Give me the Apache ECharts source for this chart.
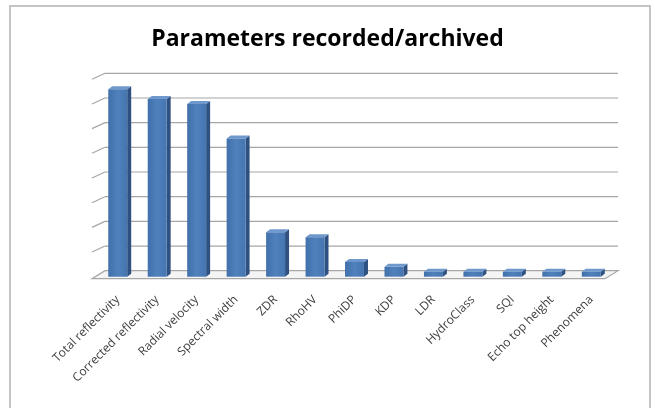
<!DOCTYPE html>
<html>
<head>
<meta charset="utf-8">
<style>
  html, body { margin: 0; padding: 0; background: #ffffff; }
  #chart { width: 655px; height: 408px; }
</style>
<script src="https://cdn.jsdelivr.net/npm/echarts@6/dist/echarts.min.js"></script>
</head>
<body>
<div id="chart"></div>
<script>
// Radar parameters and how often each is recorded/archived
const categories = [
  'Total reflectivity', 'Corrected reflectivity', 'Radial velocity', 'Spectral width',
  'ZDR', 'RhoHV', 'PhiDP', 'KDP', 'LDR', 'HydroClass', 'SQI', 'Echo top height', 'Phenomena'
];
const counts = [38, 36, 35, 28, 9, 8, 3, 2, 1, 1, 1, 1, 1];
const gridTicks = [0, 5, 10, 15, 20, 25, 30, 35, 40];

// pseudo-3D offsets (pixels): back wall relative to bar plane, floor front edge, bar depth
const BACK = [7, -6];
const FRONT = [-6, 2];
const DEPTH = [4, -3];

const chart = echarts.init(document.getElementById('chart'), null, { renderer: 'canvas' });

function wallItem(params, api) {
  const v = api.value(1);
  const band = api.size([1, 0])[0];
  const pL = api.coord([0, v]);
  const pR = api.coord([categories.length - 1, v]);
  const xL = pL[0] - band / 2;
  const xR = pR[0] + band / 2;
  const y = pL[1];
  const lineStyle = { stroke: '#a6a6a6', lineWidth: 1.2 };
  if (v === 0) {
    return {
      type: 'polygon',
      shape: { points: [
        [xL + BACK[0], y + BACK[1]], [xR + BACK[0], y + BACK[1]],
        [xR + FRONT[0], y + FRONT[1]], [xL + FRONT[0], y + FRONT[1]]
      ] },
      style: { fill: '#f4f4f4', stroke: '#a6a6a6', lineWidth: 1.2 },
      z2: 0
    };
  }
  return {
    type: 'group',
    children: [
      { type: 'line', shape: { x1: xL + BACK[0], y1: y + BACK[1], x2: xR + BACK[0], y2: y + BACK[1] }, style: lineStyle },
      { type: 'line', shape: { x1: xL + FRONT[0], y1: y, x2: xL + BACK[0], y2: y + BACK[1] }, style: lineStyle }
    ]
  };
}

function barItem(params, api) {
  const i = api.value(0);
  const v = api.value(1);
  const p0 = api.coord([i, 0]);
  const p1 = api.coord([i, v]);
  const w = api.size([1, 0])[0] * 0.48;
  const x = p0[0] - w / 2;
  const yTop = p1[1];
  const yBot = p0[1];
  return {
    type: 'group',
    children: [
      {
        type: 'polygon',
        shape: { points: [[x + w, yTop], [x + w + DEPTH[0], yTop + DEPTH[1]], [x + w + DEPTH[0], yBot + DEPTH[1]], [x + w, yBot]] },
        style: { fill: '#2f5181' }
      },
      {
        type: 'polygon',
        shape: { points: [[x, yTop], [x + DEPTH[0], yTop + DEPTH[1]], [x + w + DEPTH[0], yTop + DEPTH[1]], [x + w, yTop]] },
        style: { fill: '#6f98cc' }
      },
      {
        type: 'rect',
        shape: { x: x, y: yTop, width: w, height: yBot - yTop },
        style: {
          fill: new echarts.graphic.LinearGradient(0, 0, 1, 0, [
            { offset: 0, color: '#4170aa' },
            { offset: 0.5, color: '#4f81bd' },
            { offset: 1, color: '#4675b0' }
          ])
        }
      }
    ]
  };
}

chart.setOption({
  animation: false,
  backgroundColor: '#ffffff',
  title: {
    text: 'Parameters recorded/archived',
    left: 'center',
    top: 23,
    textStyle: { fontFamily: 'Open Sans', fontWeight: 'bold', fontSize: 23, color: '#000000' }
  },
  graphic: [{
    type: 'rect',
    shape: { x: 10, y: 6, width: 640, height: 420 },
    style: { fill: null, stroke: '#c4c4c4', lineWidth: 2 },
    silent: true
  }],
  grid: { left: 98, right: 44, top: 79.3, bottom: 131.3 },
  xAxis: {
    type: 'category',
    data: categories,
    axisLine: { show: false },
    axisTick: { show: false },
    axisLabel: {
      interval: 0,
      rotate: 45,
      margin: 21,
      fontSize: 12,
      fontFamily: 'Open Sans',
      color: '#404040'
    }
  },
  yAxis: {
    type: 'value',
    min: 0,
    max: 40,
    interval: 5,
    axisLine: { show: false },
    axisTick: { show: false },
    axisLabel: { show: false },
    splitLine: { show: false }
  },
  series: [
    {
      type: 'custom',
      renderItem: wallItem,
      data: gridTicks.map(v => [0, v]),
      z: 1,
      silent: true
    },
    {
      type: 'custom',
      renderItem: barItem,
      data: counts.map((v, i) => [i, v]),
      z: 2
    }
  ]
});
</script>
</body>
</html>
